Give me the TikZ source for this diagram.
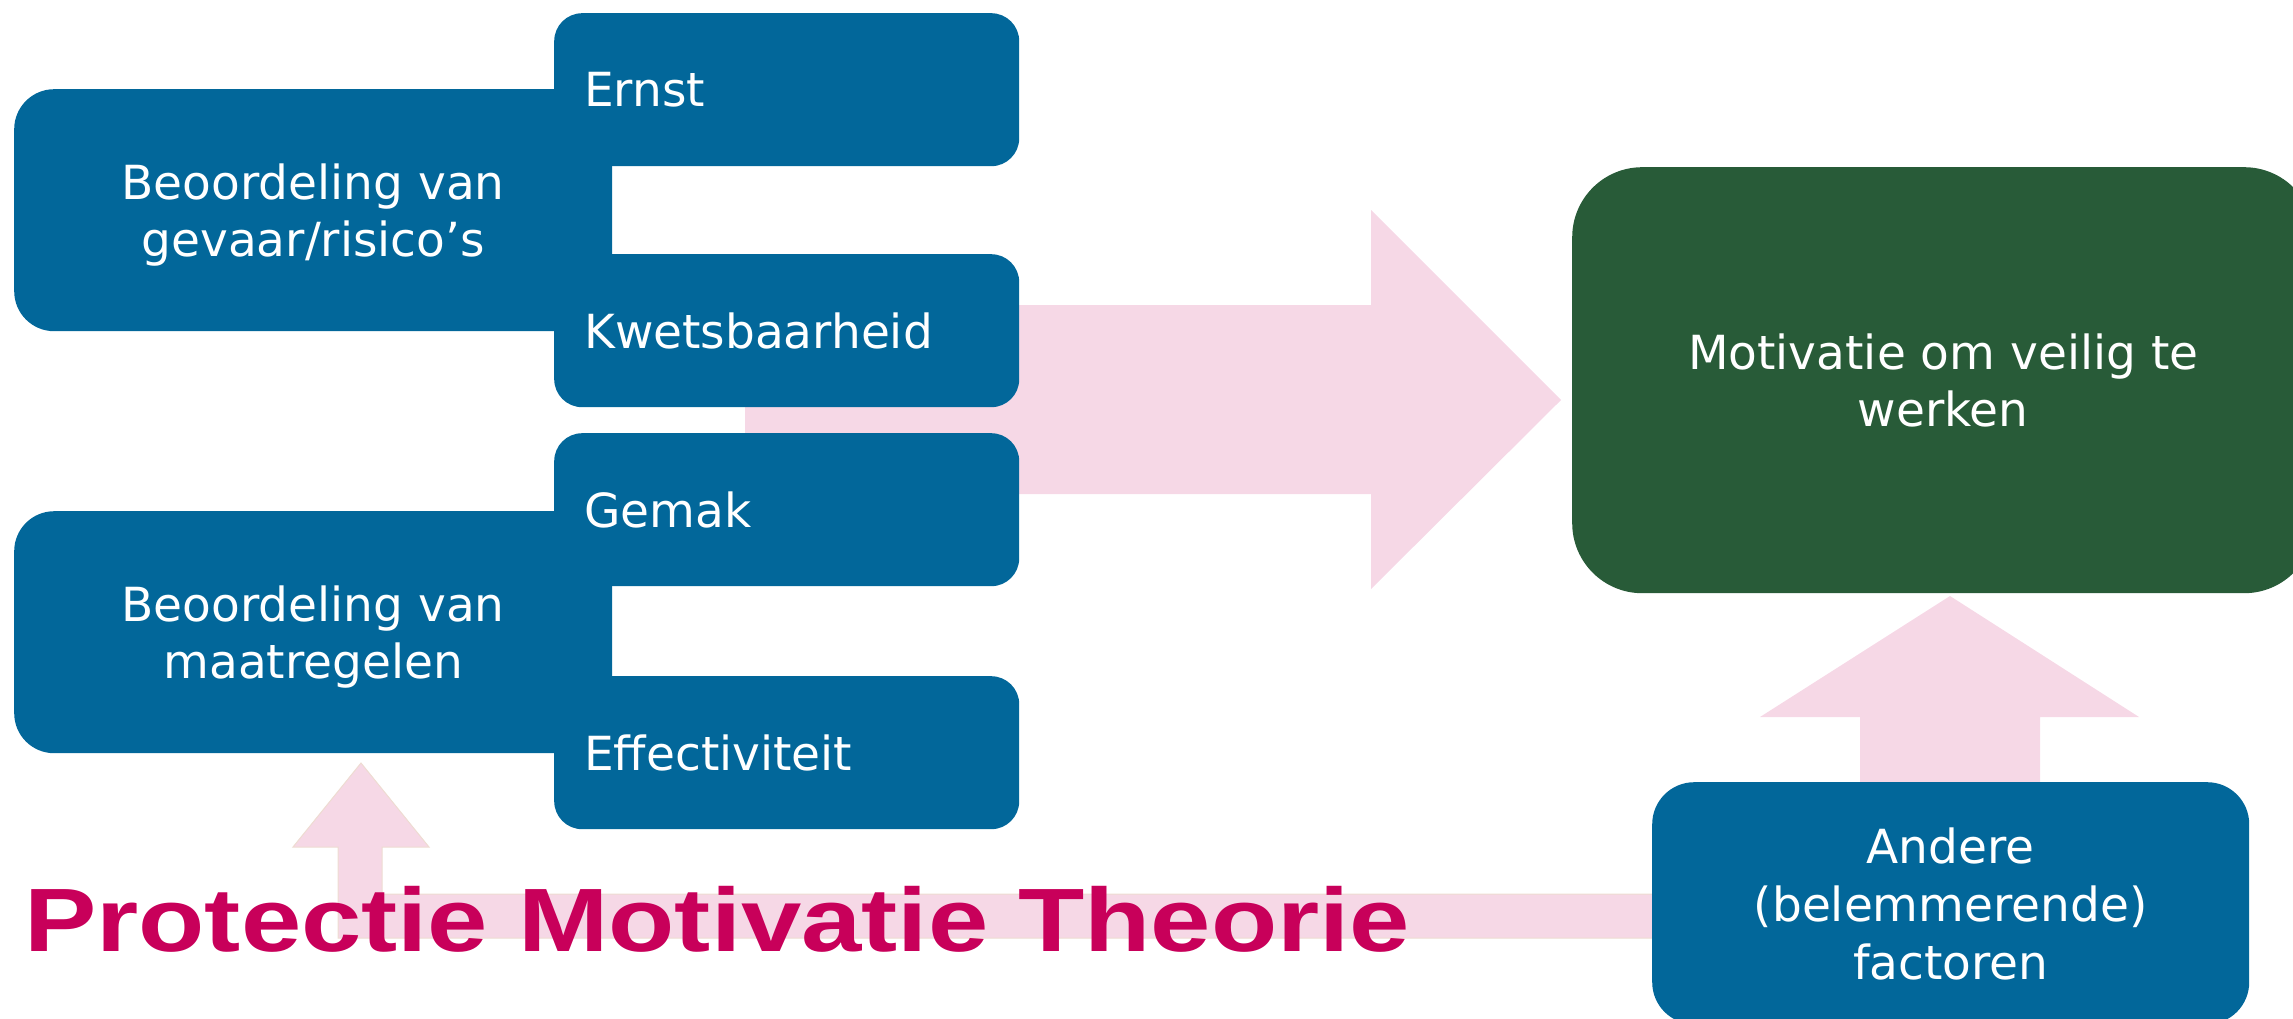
\documentclass[tikz,border=0pt]{standalone}
\usepackage{fontspec}
\usepackage{graphicx}
\setmainfont{DejaVu Sans}
\newfontfamily\titlefont{Liberation Sans}
\definecolor{pmblue}{HTML}{02679A}
\definecolor{pmgreen}{HTML}{285B38}
\definecolor{pmpink}{HTML}{F6D8E6}
\definecolor{pmedge}{HTML}{EEDCD2}
\definecolor{pmtitle}{HTML}{C8005A}
\begin{document}
\begin{tikzpicture}[x=1pt,y=-1pt,
  boxtext/.style={text=white, font=\fontsize{47}{57}\selectfont, anchor=north west, text depth=0pt},
  bigbox/.style={boxtext, fill=pmblue, rounded corners=40pt, align=center,
    minimum width=598pt, minimum height=242pt, inner sep=0pt},
  smallbox/.style={boxtext, fill=pmblue, rounded corners=28pt, align=left,
    text width=405pt, inner xsep=30pt, inner ysep=0pt, minimum height=153pt},
  greenbox/.style={boxtext, fill=pmgreen, rounded corners=70pt, align=center,
    minimum width=742pt, minimum height=426pt, inner sep=0pt},
  otherbox/.style={boxtext, fill=pmblue, rounded corners=42pt, align=center,
    minimum width=597pt, minimum height=242pt, inner sep=0pt,
    font=\fontsize{47}{58}\selectfont},
  pinkarrow/.style={fill=pmpink},
  pinkedged/.style={fill=pmpink, draw=pmedge, line width=1pt}
]
\useasboundingbox (0,0) rectangle (2293,1019);

% block arrows (background)
\fill[pinkarrow] (745,305) -- (1371,305) -- (1371,210) -- (1561,400)
  -- (1371,589) -- (1371,494) -- (745,494) -- cycle;
\fill[pinkarrow] (1860,790) -- (1860,717) -- (1760,717) -- (1950,596)
  -- (2139,717) -- (2040,717) -- (2040,790) -- cycle;
\draw[pinkedged] (1660,894) -- (382,894) -- (382,847) -- (429,847) -- (361,763)
  -- (293,847) -- (338,847) -- (338,938) -- (1660,938) -- cycle;

% left group boxes
\node[bigbox] (gevaar) at (14,89) {Beoordeling van\\gevaar/risico’s};
\node[bigbox] (maatr) at (14,511) {Beoordeling van\\maatregelen};
\node[smallbox] (ernst) at (554,13) {Ernst};
\node[smallbox] (kwets) at (554,254) {Kwetsbaarheid};
\node[smallbox] (gemak) at (554,433) {Gemak};
\node[smallbox] (effect) at (554,676) {Effectiviteit};

% right boxes
\node[greenbox] (motiv) at (1572,167) {Motivatie om veilig te\\werken};
\node[otherbox] (andere) at (1652,782) {Andere\\(belemmerende)\\factoren};

% title
\node[anchor=base west, inner sep=0pt, text=pmtitle,
  font=\titlefont\bfseries\fontsize{90}{100}\selectfont] (title) at (24,951)
  {\scalebox{1.205}[1]{Protectie Motivatie Theorie}};
\end{tikzpicture}
\end{document}
